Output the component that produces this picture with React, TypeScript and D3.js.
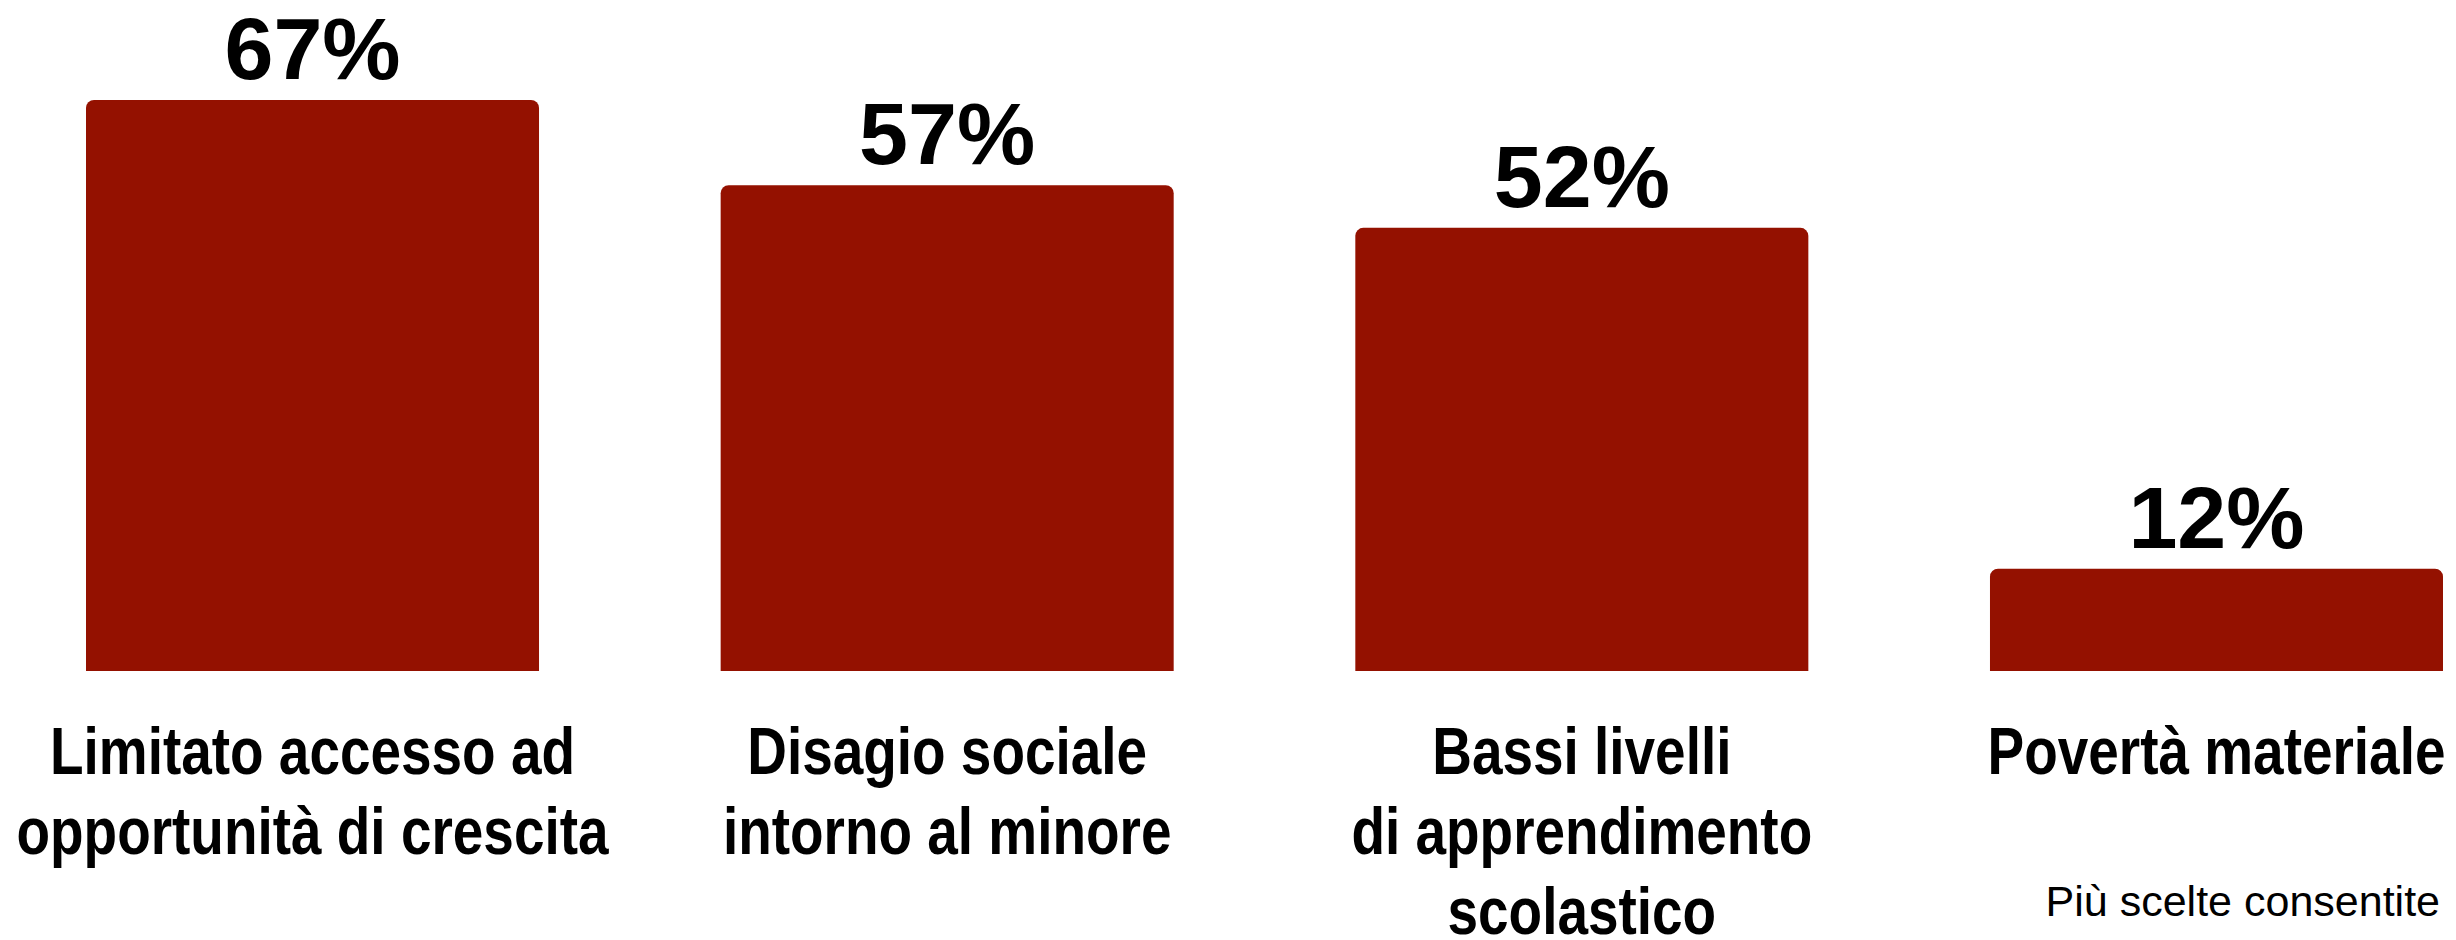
import React from "react";
import * as d3 from "d3";

const categories = [
  "Limitato accesso ad opportunità di crescita",
  "Disagio sociale intorno al minore",
  "Bassi livelli di apprendimento scolastico",
  "Povertà materiale",
];
const labelLines: string[][] = [
  ["Limitato accesso ad", "opportunità di crescita"],
  ["Disagio sociale", "intorno al minore"],
  ["Bassi livelli", "di apprendimento", "scolastico"],
  ["Povertà materiale"],
];
const values = [67, 57, 52, 12];
const note = "Più scelte consentite";

const W = 2456;
const H = 940;
const BAR_COLOR = "#941100";

function topRoundedBar(x: number, y: number, w: number, h: number, r: number) {
  const p = d3.path();
  p.moveTo(x, y + h);
  p.lineTo(x, y + r);
  p.arcTo(x, y, x + r, y, r);
  p.lineTo(x + w - r, y);
  p.arcTo(x + w, y, x + w, y + r, r);
  p.lineTo(x + w, y + h);
  p.closePath();
  return p.toString();
}

export default function App() {
  const x = d3
    .scaleBand<string>()
    .domain(categories)
    .range([86, 2443])
    .paddingInner(0.2862)
    .paddingOuter(0);
  const y = d3.scaleLinear().domain([0, 67]).range([671, 100]);
  const bw = x.bandwidth();

  return (
    <svg
      width={W}
      height={H}
      viewBox={`0 0 ${W} ${H}`}
      style={{ position: "absolute", left: 0, top: 0, display: "block", background: "#fff" }}
    >
      {categories.map((c, i) => {
        const x0 = x(c)!;
        const cx = x0 + bw / 2;
        const top = y(values[i]);
        return (
          <g key={c}>
            <path d={topRoundedBar(x0, top, bw, y(0) - top, 8)} fill={BAR_COLOR} />
            <text
              x={cx}
              y={top - 21}
              textAnchor="middle"
              fontFamily="'Liberation Sans', Arial, Helvetica, sans-serif"
              fontWeight="bold"
              fontSize={88}
              fill="#000"
            >
              {values[i]}%
            </text>
            {labelLines[i].map((line, j) => (
              <text
                key={j}
                transform={`translate(${cx},${774 + j * 80}) scale(0.82,1)`}
                textAnchor="middle"
                fontFamily="'Liberation Sans', Arial, Helvetica, sans-serif"
                fontWeight="bold"
                fontSize={67}
                fill="#000"
              >
                {line}
              </text>
            ))}
          </g>
        );
      })}
      <text
        x={2440}
        y={916}
        textAnchor="end"
        fontFamily="'Liberation Sans', Arial, Helvetica, sans-serif"
        fontSize={43}
        fill="#000"
      >
        {note}
      </text>
    </svg>
  );
}
